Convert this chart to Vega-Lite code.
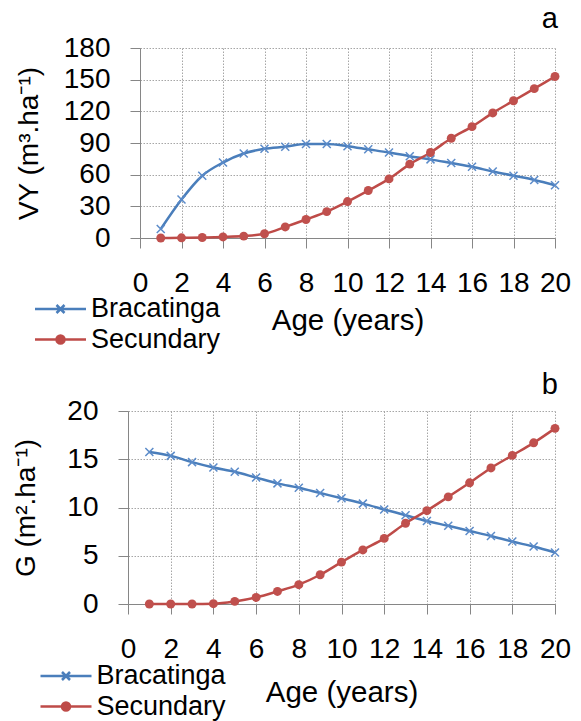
{
  "$schema": "https://vega.github.io/schema/vega-lite/v6.json",
  "padding": {"left": 12, "top": 5, "right": 5, "bottom": 5},
  "config": {
    "font": "Liberation Sans",
    "view": {"stroke": null},
    "axis": {
      "domainColor": "#868686", "tickColor": "#868686", "tickSize": 10,
      "gridColor": "#a6a6a6", "gridDash": [1.5, 1.5], "gridWidth": 1,
      "labelFont": "Liberation Sans", "labelFontSize": 28, "labelColor": "black",
      "titleFont": "Liberation Sans", "titleFontSize": 29.5, "titleFontWeight": "normal", "titleColor": "black"
    },
    "title": {"font": "Liberation Sans", "fontSize": 29, "fontWeight": "normal", "color": "black", "anchor": "end", "frame": "group", "dx": 3}
  },
  "datasets": {
    "vy": [
      {"age": 1, "series": "Bracatinga", "value": 8.5}, {"age": 2, "series": "Bracatinga", "value": 36.5},
      {"age": 3, "series": "Bracatinga", "value": 59}, {"age": 4, "series": "Bracatinga", "value": 71.5},
      {"age": 5, "series": "Bracatinga", "value": 80}, {"age": 6, "series": "Bracatinga", "value": 84.5},
      {"age": 7, "series": "Bracatinga", "value": 86.5}, {"age": 8, "series": "Bracatinga", "value": 89},
      {"age": 9, "series": "Bracatinga", "value": 89}, {"age": 10, "series": "Bracatinga", "value": 87},
      {"age": 11, "series": "Bracatinga", "value": 84}, {"age": 12, "series": "Bracatinga", "value": 81},
      {"age": 13, "series": "Bracatinga", "value": 77.5}, {"age": 14, "series": "Bracatinga", "value": 74.5},
      {"age": 15, "series": "Bracatinga", "value": 71}, {"age": 16, "series": "Bracatinga", "value": 67.5},
      {"age": 17, "series": "Bracatinga", "value": 63}, {"age": 18, "series": "Bracatinga", "value": 59},
      {"age": 19, "series": "Bracatinga", "value": 55}, {"age": 20, "series": "Bracatinga", "value": 50},
      {"age": 1, "series": "Secundary", "value": 0}, {"age": 2, "series": "Secundary", "value": 0.2},
      {"age": 3, "series": "Secundary", "value": 0.5}, {"age": 4, "series": "Secundary", "value": 1},
      {"age": 5, "series": "Secundary", "value": 1.8}, {"age": 6, "series": "Secundary", "value": 4},
      {"age": 7, "series": "Secundary", "value": 10.5}, {"age": 8, "series": "Secundary", "value": 17.5},
      {"age": 9, "series": "Secundary", "value": 25}, {"age": 10, "series": "Secundary", "value": 34.5},
      {"age": 11, "series": "Secundary", "value": 45}, {"age": 12, "series": "Secundary", "value": 56},
      {"age": 13, "series": "Secundary", "value": 70}, {"age": 14, "series": "Secundary", "value": 81},
      {"age": 15, "series": "Secundary", "value": 94.5}, {"age": 16, "series": "Secundary", "value": 105.5},
      {"age": 17, "series": "Secundary", "value": 118.5}, {"age": 18, "series": "Secundary", "value": 130},
      {"age": 19, "series": "Secundary", "value": 141.5}, {"age": 20, "series": "Secundary", "value": 153}
    ],
    "g": [
      {"age": 1, "series": "Bracatinga", "value": 15.75}, {"age": 2, "series": "Bracatinga", "value": 15.35},
      {"age": 3, "series": "Bracatinga", "value": 14.7}, {"age": 4, "series": "Bracatinga", "value": 14.15},
      {"age": 5, "series": "Bracatinga", "value": 13.7}, {"age": 6, "series": "Bracatinga", "value": 13.1},
      {"age": 7, "series": "Bracatinga", "value": 12.5}, {"age": 8, "series": "Bracatinga", "value": 12.05},
      {"age": 9, "series": "Bracatinga", "value": 11.5}, {"age": 10, "series": "Bracatinga", "value": 10.95},
      {"age": 11, "series": "Bracatinga", "value": 10.4}, {"age": 12, "series": "Bracatinga", "value": 9.8},
      {"age": 13, "series": "Bracatinga", "value": 9.2}, {"age": 14, "series": "Bracatinga", "value": 8.6},
      {"age": 15, "series": "Bracatinga", "value": 8.1}, {"age": 16, "series": "Bracatinga", "value": 7.57},
      {"age": 17, "series": "Bracatinga", "value": 7.05}, {"age": 18, "series": "Bracatinga", "value": 6.47},
      {"age": 19, "series": "Bracatinga", "value": 5.95}, {"age": 20, "series": "Bracatinga", "value": 5.33},
      {"age": 1, "series": "Secundary", "value": 0}, {"age": 2, "series": "Secundary", "value": 0},
      {"age": 3, "series": "Secundary", "value": 0}, {"age": 4, "series": "Secundary", "value": 0.03},
      {"age": 5, "series": "Secundary", "value": 0.27}, {"age": 6, "series": "Secundary", "value": 0.68},
      {"age": 7, "series": "Secundary", "value": 1.3}, {"age": 8, "series": "Secundary", "value": 2.0},
      {"age": 9, "series": "Secundary", "value": 3.03}, {"age": 10, "series": "Secundary", "value": 4.34},
      {"age": 11, "series": "Secundary", "value": 5.6}, {"age": 12, "series": "Secundary", "value": 6.8},
      {"age": 13, "series": "Secundary", "value": 8.37}, {"age": 14, "series": "Secundary", "value": 9.67},
      {"age": 15, "series": "Secundary", "value": 11.1}, {"age": 16, "series": "Secundary", "value": 12.56},
      {"age": 17, "series": "Secundary", "value": 14.1}, {"age": 18, "series": "Secundary", "value": 15.4},
      {"age": 19, "series": "Secundary", "value": 16.7}, {"age": 20, "series": "Secundary", "value": 18.2}
    ]
  },
  "columns": 1,
  "spacing": 18,
  "resolve": {"scale": {"color": "independent"}, "legend": {"color": "independent"}},
  "concat": [
    {
      "width": 427, "height": 190,
      "title": {"text": "a", "offset": 0},
      "data": {"name": "vy"},
      "encoding": {
        "x": {"field": "age", "type": "quantitative", "scale": {"domain": [0, 20], "nice": false, "range": [12, 427]},
          "axis": {"title": "Age (years)", "values": [0,2,4,6,8,10,12,14,16,18,20], "labelFlush": false, "labelOverlap": false, "labelPadding": 21, "titlePadding": 9}},
        "y": {"field": "value", "type": "quantitative", "scale": {"domain": [0, 180], "nice": false},
          "axis": {"title": "VY (m³.ha⁻¹)", "titleFontSize": 28, "offset": -12, "values": [0,30,60,90,120,150,180], "labelPadding": 20, "titlePadding": 20}}
      },
      "layer": [
        {
          "mark": {"type": "line", "interpolate": "monotone", "strokeWidth": 2.5},
          "encoding": {
            "color": {"field": "series", "type": "nominal",
              "scale": {"domain": ["Bracatinga", "Secundary"], "range": ["#4A7EBB", "#BE4B48"]},
              "legend": {"orient": "none", "legendX": -81, "legendY": 247.5, "title": null, "direction": "vertical", "padding": 0,
                "labelFont": "Liberation Sans", "labelFontSize": 27, "labelColor": "black", "symbolSize": 100, "symbolStrokeWidth": 2.5,
                "labelOffset": 17, "rowPadding": 2.5,
                "encode": {"symbols": {"update": {
                  "shape": {"signal": "datum.value === 'Bracatinga' ? 'M-5.1,0H5.1M-0.8,-0.8L0.8,0.8M-0.8,0.8L0.8,-0.8' : 'M-5.1,0H5.1M-0.8,0A0.8,0.8,0,1,1,0.8,0A0.8,0.8,0,1,1,-0.8,0Z'"},
                  "stroke": {"signal": "datum.value === 'Bracatinga' ? '#4A7EBB' : '#BE4B48'"},
                  "fill": {"signal": "datum.value === 'Bracatinga' ? 'transparent' : '#BE4B48'"}
                }}}}
            }
          }
        },
        {
          "transform": [{"filter": "datum.series === 'Bracatinga'"}],
          "mark": {"type": "point", "shape": "M-1,-1L1,1M-1,1L1,-1", "filled": false, "size": 64, "strokeWidth": 1.5, "color": "#5B8BC9", "opacity": 1}
        },
        {
          "transform": [{"filter": "datum.series === 'Secundary'"}],
          "mark": {"type": "point", "shape": "circle", "filled": true, "size": 80, "color": "#C0504D", "opacity": 1}
        }
      ]
    },
    {
      "width": 427, "height": 193,
      "title": {"text": "b", "offset": -3},
      "data": {"name": "g"},
      "encoding": {
        "x": {"field": "age", "type": "quantitative", "scale": {"domain": [0, 20], "nice": false},
          "axis": {"title": "Age (years)", "values": [0,2,4,6,8,10,12,14,16,18,20], "labelFlush": false, "labelOverlap": false, "labelPadding": 21, "titlePadding": 15}},
        "y": {"field": "value", "type": "quantitative", "scale": {"domain": [0, 20], "nice": false},
          "axis": {"title": "G (m².ha⁻¹)", "titleFontSize": 28, "values": [0,5,10,15,20], "labelPadding": 20, "titlePadding": 26}}
      },
      "layer": [
        {
          "mark": {"type": "line", "interpolate": "monotone", "strokeWidth": 2.5},
          "encoding": {
            "color": {"field": "series", "type": "nominal",
              "scale": {"domain": ["Bracatinga", "Secundary"], "range": ["#4A7EBB", "#BE4B48"]},
              "legend": {"orient": "none", "legendX": -75.5, "legendY": 251.5, "title": null, "direction": "vertical", "padding": 0,
                "labelFont": "Liberation Sans", "labelFontSize": 27, "labelColor": "black", "symbolSize": 100, "symbolStrokeWidth": 2.5,
                "labelOffset": 17, "rowPadding": 2.5,
                "encode": {"symbols": {"update": {
                  "shape": {"signal": "datum.value === 'Bracatinga' ? 'M-5.1,0H5.1M-0.8,-0.8L0.8,0.8M-0.8,0.8L0.8,-0.8' : 'M-5.1,0H5.1M-0.8,0A0.8,0.8,0,1,1,0.8,0A0.8,0.8,0,1,1,-0.8,0Z'"},
                  "stroke": {"signal": "datum.value === 'Bracatinga' ? '#4A7EBB' : '#BE4B48'"},
                  "fill": {"signal": "datum.value === 'Bracatinga' ? 'transparent' : '#BE4B48'"}
                }}}}
            }
          }
        },
        {
          "transform": [{"filter": "datum.series === 'Bracatinga'"}],
          "mark": {"type": "point", "shape": "M-1,-1L1,1M-1,1L1,-1", "filled": false, "size": 64, "strokeWidth": 1.5, "color": "#5B8BC9", "opacity": 1}
        },
        {
          "transform": [{"filter": "datum.series === 'Secundary'"}],
          "mark": {"type": "point", "shape": "circle", "filled": true, "size": 80, "color": "#C0504D", "opacity": 1}
        }
      ]
    }
  ]
}
